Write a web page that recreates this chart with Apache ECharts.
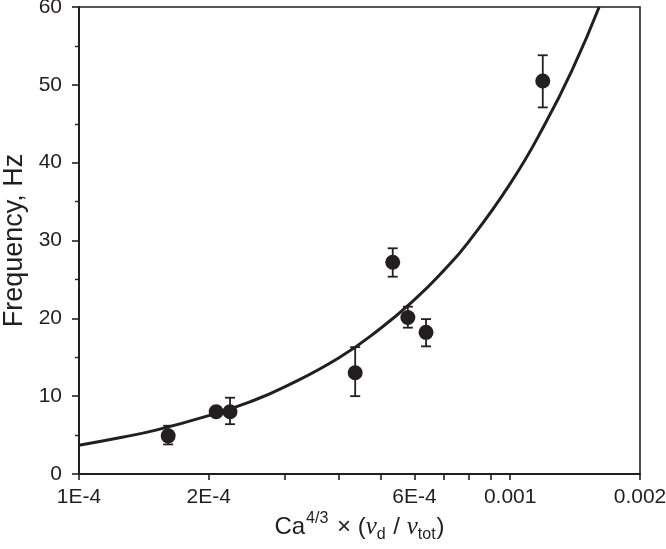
<!DOCTYPE html>
<html>
<head>
<meta charset="utf-8">
<script src="https://cdn.jsdelivr.net/npm/echarts@6/dist/echarts.min.js"></script>
<style>
html,body{margin:0;padding:0;background:#fff;}
#chart{width:666px;height:549px;}
</style>
</head>
<body>
<div id="chart"></div>
<script>
// ---- data ----
var xValues   = [1.61e-4, 2.08e-4, 2.24e-4, 4.37e-4, 5.34e-4, 5.79e-4, 6.38e-4, 1.19e-3];
var freq      = [4.9, 8.0, 8.0, 13.0, 27.2, 20.1, 18.2, 50.5];
var errLow    = [3.8, 7.6, 6.4, 10.0, 25.35, 18.8, 16.4, 47.1];
var errHigh   = [6.2, 8.4, 9.8, 16.3, 29.0, 21.5, 19.9, 53.8];

var curveX    = [1.0e-4, 1.25e-4, 1.5e-4, 2.0e-4, 2.5e-4, 3.0e-4, 4.0e-4, 5.0e-4, 6.0e-4, 7.0e-4, 8.0e-4, 1.0e-3, 1.2e-3, 1.4e-3, 1.608e-3];
var curveY    = [3.7, 4.7, 5.6, 7.5, 9.3, 11.2, 14.9, 18.7, 22.4, 26.1, 29.8, 37.3, 44.8, 52.2, 60.0];

var xTickValues  = [1e-4, 2e-4, 6e-4, 1e-3, 2e-3];
var xTickLabels  = ['1E-4', '2E-4', '6E-4', '0.001', '0.002'];
var xMinorValues = [3e-4, 4e-4, 5e-4, 7e-4, 8e-4, 9e-4];

var yTickValues  = [0, 10, 20, 30, 40, 50, 60];

// ---- build ----
var ink = '#231f20';
var font = 'Liberation Sans, Arial, Helvetica, sans-serif';

var points = xValues.map(function (x, i) { return [x, freq[i]]; });
var bars = xValues.map(function (x, i) { return [x, errLow[i], errHigh[i]]; });
var curve = curveX.map(function (x, i) { return [x, curveY[i]]; });

var lg = function (v) { return Math.log(v) / Math.LN10; };
var allTicks = xTickValues.concat(xMinorValues).map(lg);

var chart = echarts.init(document.getElementById('chart'), null, {renderer: 'canvas'});
chart.setOption({
  animation: false,
  backgroundColor: '#fff',
  grid: {left: 79, right: 26, top: 7, bottom: 75, show: true, borderColor: ink, borderWidth: 1.6,
         containLabel: false, outerBoundsMode: 'none'},
  xAxis: [{
    type: 'log',
    logBase: 10,
    min: xTickValues[0],
    max: xTickValues[xTickValues.length - 1],
    axisLine: {show: true, lineStyle: {color: ink, width: 2}},
    axisTick: {show: false},
    axisLabel: {show: false},
    splitLine: {show: false},
    minorTick: {show: false},
    minorSplitLine: {show: false},
    name: '{n|Ca}{sup|4/3}{n| × (}{v|ν}{sub|d}{n| / }{v|ν}{sub|tot}{n|)}',
    nameLocation: 'middle',
    nameGap: 37,
    nameTextStyle: {
      color: ink,
      rich: {
        n: {fontFamily: font, fontSize: 24, color: ink, lineHeight: 32, verticalAlign: 'middle'},
        sup: {fontFamily: font, fontSize: 16, color: ink, lineHeight: 32, verticalAlign: 'top', padding: [0, 2, 0, 1]},
        sub: {fontFamily: font, fontSize: 16, color: ink, lineHeight: 32, verticalAlign: 'bottom', padding: [0, 1, 0, 0]},
        v: {fontFamily: 'Liberation Serif, DejaVu Serif, serif', fontStyle: 'italic', fontSize: 25, color: ink, lineHeight: 32, verticalAlign: 'middle'}
      }
    }
  }, {
    type: 'value',
    position: 'bottom',
    min: lg(xTickValues[0]),
    max: lg(xTickValues[xTickValues.length - 1]),
    axisLine: {show: false},
    splitLine: {show: false},
    axisTick: {show: true, length: 6, customValues: allTicks, lineStyle: {color: ink, width: 1.6}},
    axisLabel: {
      show: true,
      customValues: xTickValues.map(lg),
      margin: 13,
      color: ink,
      fontFamily: font,
      fontSize: 21,
      formatter: function (v) {
        for (var i = 0; i < xTickValues.length; i++) {
          if (Math.abs(lg(xTickValues[i]) - v) < 1e-6) return xTickLabels[i];
        }
        return '';
      }
    }
  }],
  yAxis: {
    type: 'value',
    min: yTickValues[0],
    max: yTickValues[yTickValues.length - 1],
    interval: 10,
    axisLine: {show: true, lineStyle: {color: ink, width: 2}},
    axisTick: {show: true, length: 7, lineStyle: {color: ink, width: 1.6}},
    minorTick: {show: true, splitNumber: 2, length: 4, lineStyle: {color: ink, width: 1.4}},
    splitLine: {show: false},
    axisLabel: {color: ink, fontFamily: font, fontSize: 21, margin: 17},
    name: 'Frequency, Hz',
    nameLocation: 'middle',
    nameGap: 47,
    nameTextStyle: {color: ink, fontFamily: font, fontSize: 27}
  },
  series: [{
    type: 'line',
    xAxisIndex: 0,
    data: curve,
    smooth: true,
    showSymbol: false,
    symbol: 'none',
    lineStyle: {color: ink, width: 3},
    z: 2
  }, {
    type: 'custom',
    xAxisIndex: 0,
    data: bars,
    encode: {x: 0, y: [1, 2]},
    renderItem: function (params, api) {
      var x = api.value(0);
      var lo = api.coord([x, api.value(1)]);
      var hi = api.coord([x, api.value(2)]);
      var w = 5;
      var st = {stroke: ink, lineWidth: 1.8};
      return {
        type: 'group',
        children: [
          {type: 'line', shape: {x1: hi[0], y1: hi[1], x2: lo[0], y2: lo[1]}, style: st},
          {type: 'line', shape: {x1: hi[0] - w, y1: hi[1], x2: hi[0] + w, y2: hi[1]}, style: st},
          {type: 'line', shape: {x1: lo[0] - w, y1: lo[1], x2: lo[0] + w, y2: lo[1]}, style: st}
        ]
      };
    },
    z: 3
  }, {
    type: 'scatter',
    xAxisIndex: 0,
    data: points,
    symbol: 'circle',
    symbolSize: 15,
    itemStyle: {color: ink, opacity: 1},
    z: 4
  }]
});
</script>
</body>
</html>
